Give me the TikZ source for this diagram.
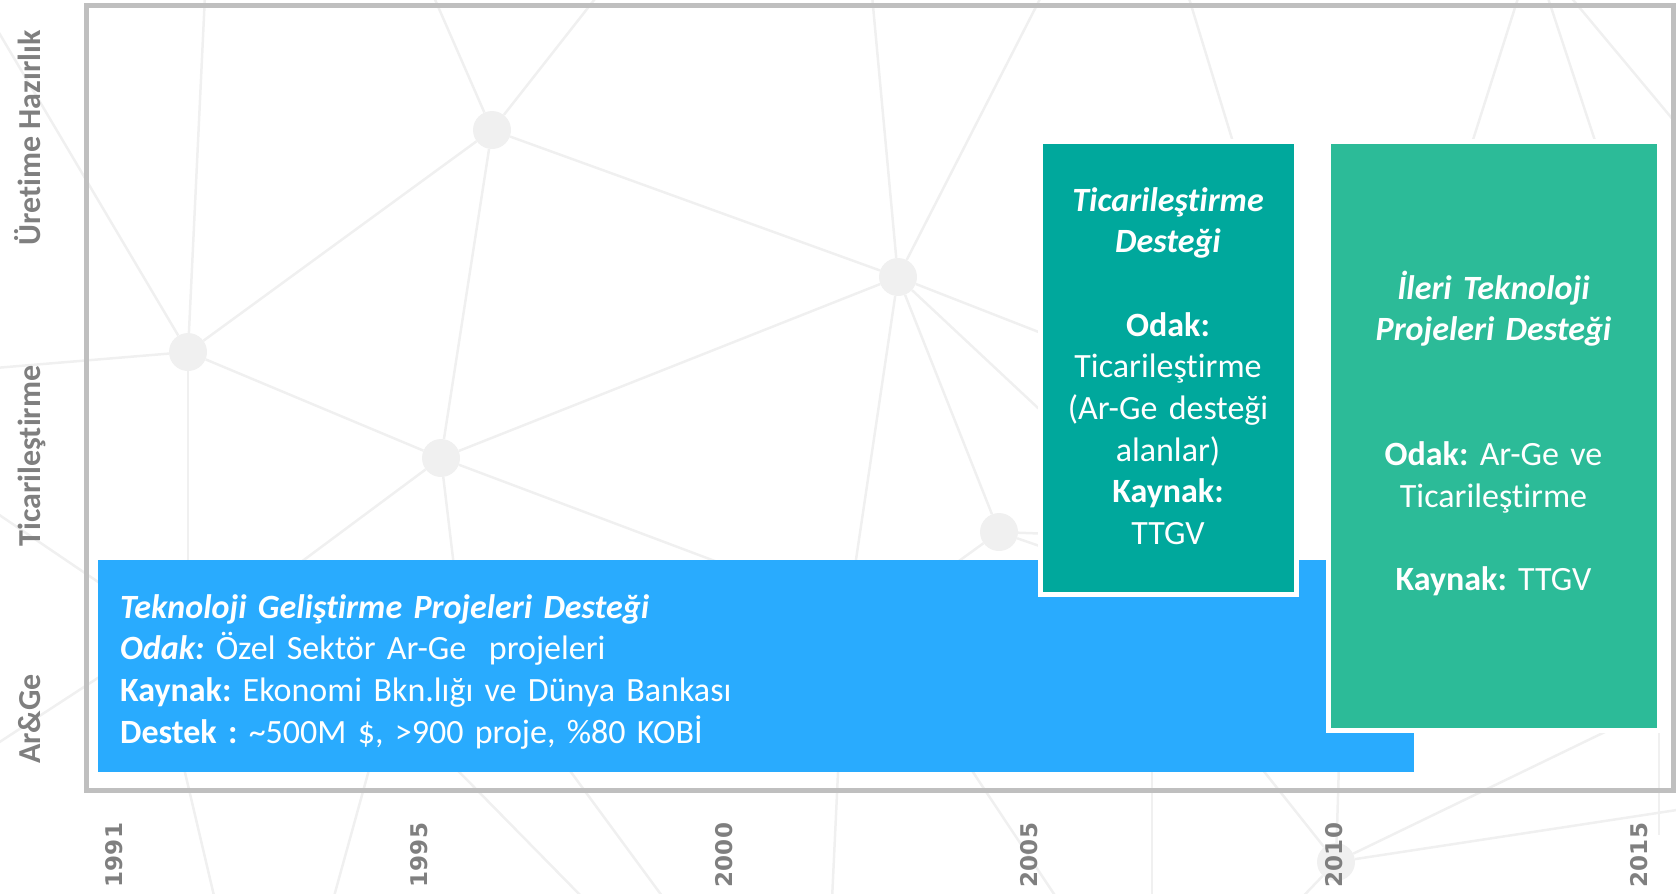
\documentclass[tikz,border=0pt]{standalone}
\usepackage{fontspec}
\setmainfont{Carlito}[Ligatures=NoCommon]
\newfontfamily\yearfont{DejaVu Sans}
\usetikzlibrary{calc}
\frenchspacing
\definecolor{webgray}{HTML}{F0F0F0}
\definecolor{framegray}{HTML}{BFBFBF}
\definecolor{labelgray}{HTML}{7F7F7F}
\definecolor{tgpblue}{HTML}{29ABFE}
\definecolor{ticteal}{HTML}{00A89C}
\definecolor{ilerigreen}{HTML}{2CBB98}
\tikzstyle{web} = [draw=webgray, line width=2.5pt]
\tikzstyle{dot} = [circle, fill=webgray, minimum size=38pt, inner sep=0pt]
\tikzstyle{phase} = [rotate=90, anchor=base, text=labelgray, inner sep=0pt, font=\fontsize{32}{38}\selectfont\bfseries]
\tikzstyle{year} = [rotate=90, anchor=base, text=labelgray, inner sep=0pt, font=\yearfont\fontsize{23}{27}\selectfont\bfseries]
\tikzstyle{destek} = [rectangle, anchor=north west, inner sep=0pt]
\tikzstyle{boxtext} = [text=white, inner sep=0pt, font=\fontsize{34}{41.7}\selectfont]

\begin{document}
\begin{tikzpicture}[x=1pt, y=-1pt]

        \useasboundingbox (0,0) rectangle (1676,894);

        \node (w1) [dot] at (492,130) {};
        \node (w2) [dot] at (188,352) {};
        \node (w3) [dot] at (441,458) {};
        \node (w4) [dot] at (898,277) {};
        \node (w5) [dot] at (999,532) {};
        \node (w6) [dot] at (1336,862) {};

        \coordinate (t1) at (433,-5);
        \coordinate (t2) at (598,-5);
        \coordinate (t3) at (205,-5);
        \coordinate (t4) at (872,-5);
        \coordinate (t5) at (1042,-5);
        \coordinate (l1) at (-5,368);
        \coordinate (l2) at (-5,26);
        \coordinate (h1) at (188,600);
        \coordinate (h2) at (250,600);
        \coordinate (h3) at (458,600);
        \coordinate (h4) at (760,578);
        \coordinate (h5) at (850,600);
        \coordinate (h6) at (1100,356);
        \coordinate (h7) at (1100,466);
        \coordinate (h8) at (905,600);
        \coordinate (h9) at (1080,535);
        \coordinate (h10) at (1080,560);
        \coordinate (b1) at (1231,730);
        \coordinate (b2) at (1340,730);
        \coordinate (b3) at (1640,715);
        \coordinate (b4) at (1690,808);
        \coordinate (b5) at (1290,910);

        \draw [web] (w1) -- (t1);
        \draw [web] (w1) -- (t2);
        \draw [web] (w1) -- (w2);
        \draw [web] (w1) -- (w3);
        \draw [web] (w1) -- (w4);
        \draw [web] (w2) -- (t3);
        \draw [web] (w2) -- (l1);
        \draw [web] (w2) -- (l2);
        \draw [web] (w2) -- (w3);
        \draw [web] (w2) -- (h1);
        \draw [web] (w3) -- (w4);
        \draw [web] (w3) -- (h2);
        \draw [web] (w3) -- (h3);
        \draw [web] (w3) -- (h4);
        \draw [web] (w4) -- (t4);
        \draw [web] (w4) -- (t5);
        \draw [web] (w4) -- (w5);
        \draw [web] (w4) -- (h5);
        \draw [web] (w4) -- (h6);
        \draw [web] (w4) -- (h7);
        \draw [web] (w5) -- (h8);
        \draw [web] (w5) -- (h9);
        \draw [web] (w5) -- (h10);
        \draw [web] (w6) -- (b1);
        \draw [web] (w6) -- (b2);
        \draw [web] (w6) -- (b3);
        \draw [web] (w6) -- (b4);
        \draw [web] (w6) -- (b5);
        \draw [web] (1188,-5) -- (1240,165);
        \draw [web] (1519,-5) -- (1465,165);
        \draw [web] (1547,-5) -- (1603,165);
        \draw [web] (1569,-5) -- (1690,140);
        \draw [web] (-5,512) -- (110,590);
        \draw [web] (-5,745) -- (110,670);
        \draw [web] (175,730) -- (215,900);
        \draw [web] (380,730) -- (333,900);
        \draw [web] (418,730) -- (585,900);
        \draw [web] (540,730) -- (665,900);
        \draw [web] (840,730) -- (832,900);
        \draw [web] (945,730) -- (1058,900);
        \draw [web] (1152,730) -- (1152,900);
        \draw [web] (1659,715) -- (1659,835);

        \node (frame) [destek, draw=framegray, line width=5pt, minimum width=1587pt, minimum height=785pt] at (84,2.5) {};

        \node (tgp) [destek, fill=tgpblue, minimum width=1316pt, minimum height=212pt] at (98,560) {};
        \node (tic) [destek, fill=ticteal, draw=white, line width=5pt, minimum width=256pt, minimum height=453pt] at (1037.5,138.5) {};
        \node (ileri) [destek, fill=ilerigreen, draw=white, line width=5pt, minimum width=331pt, minimum height=589pt] at (1325.5,138.5) {};

        \node (tgptext) [boxtext, text width=1200pt, align=left, anchor=base west] at ($(tgp.north west)+(22,58)$)
            {\textbf{\textit{Teknoloji Geliştirme Projeleri Desteği}}\\
             \textbf{\textit{Odak:}} Özel Sektör Ar-Ge\ \ projeleri\\
             \textbf{Kaynak:} Ekonomi Bkn.lığı ve Dünya Bankası\\
             \textbf{Destek :} \textasciitilde500M \$, >900 proje, \%80 KOBİ};

        \node (tictext) [boxtext, text width=251pt, align=center, anchor=base] at ($(tic.north)+(0,72.5)$)
            {\textbf{\textit{Ticarileştirme}}\\
             \textbf{\textit{Desteği}}\\[41.7pt]
             \textbf{Odak:}\\
             Ticarileştirme\\
             (Ar-Ge desteği\\
             alanlar)\\
             \textbf{Kaynak:}\\
             TTGV};

        \node (ileritext) [boxtext, text width=326pt, align=center, anchor=base] at ($(ileri.north)+(0,160.5)$)
            {\textbf{\textit{İleri Teknoloji}}\\
             \textbf{\textit{Projeleri Desteği}}\\[83.4pt]
             \textbf{Odak:} Ar-Ge ve\\
             Ticarileştirme\\[41.7pt]
             \textbf{Kaynak:} TTGV};

        \node (uretim) [phase] at (40,138) {Üretime Hazırlık};
        \node (ticari) [phase] at (40,456) {Ticarileştirme};
        \node (arge)   [phase] at (40,719) {Ar\&Ge};

        \node (y1991) [year] at (122,855) {1991};
        \node (y1995) [year] at (427,855) {1995};
        \node (y2000) [year] at (732,855) {2000};
        \node (y2005) [year] at (1037,855) {2005};
        \node (y2010) [year] at (1342,855) {2010};
        \node (y2015) [year] at (1647,855) {2015};

    \end{tikzpicture}
\end{document}
